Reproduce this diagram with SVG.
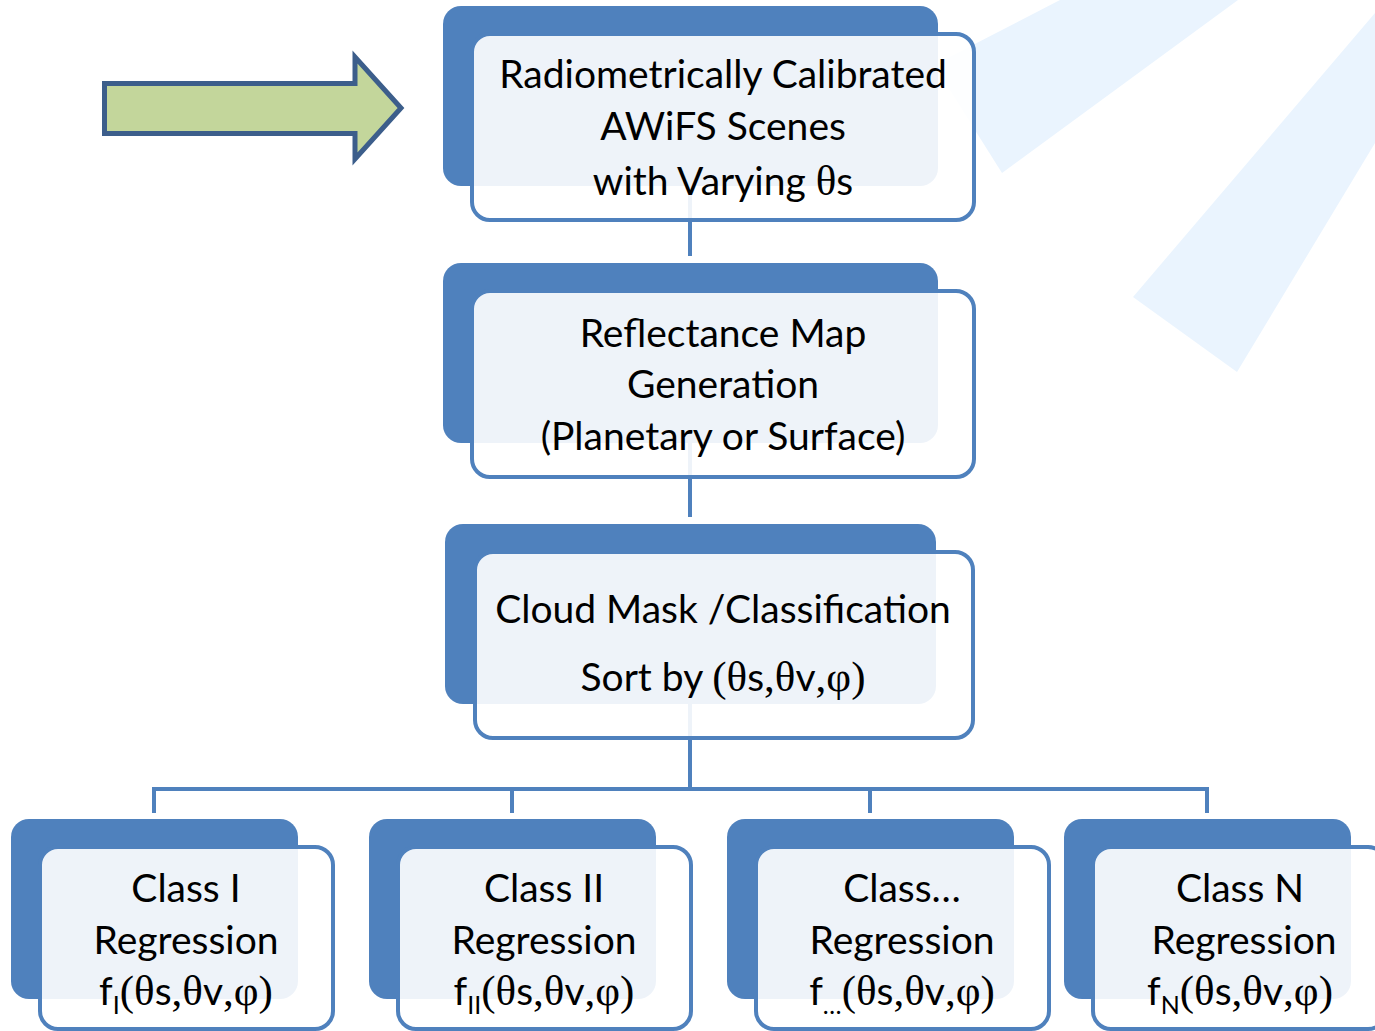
<svg xmlns="http://www.w3.org/2000/svg" width="1375" height="1031" viewBox="0 0 1375 1031">
<style>
.bg{fill:#EAF4FE;stroke:none}
.back{fill:#4F81BD;stroke:none}
.front{fill:#FFFFFF;fill-opacity:0.9;stroke:#4F81BD;stroke-width:4}
.conn{stroke:#4F81BD;stroke-width:4;fill:none}
.t{font-family:Lato,"Open Sans","Liberation Sans",sans-serif;font-size:39px;fill:#000000;text-anchor:middle}
.g{font-family:"Liberation Serif","DejaVu Serif",serif;font-size:43px}
.sub{font-size:25px}
</style>
<rect x="0" y="0" width="1375" height="1031" fill="#FFFFFF"/>
<g id="background">
<polygon class="bg" points="934,65 1060,0 1238,0 1002,173"/>
<polygon class="bg" points="1133,297 1375,13 1375,143 1237,372"/>
</g>
<g id="input-arrow">
<polygon points="104.5,83.5 355,83.5 355,57 401,108 355,159 355,133.5 104.5,133.5" fill="#C3D69B" stroke="#3C5E8B" stroke-width="5" stroke-linejoin="miter"/>
</g>
<g id="connectors">
<line class="conn" x1="690" y1="110" x2="690" y2="256"/>
<line class="conn" x1="690" y1="370" x2="690" y2="517"/>
<line class="conn" x1="690" y1="630" x2="690" y2="789"/>
<line class="conn" x1="153" y1="789" x2="1208" y2="789"/>
<line class="conn" x1="154" y1="787" x2="154" y2="813"/>
<line class="conn" x1="512" y1="787" x2="512" y2="813"/>
<line class="conn" x1="870" y1="787" x2="870" y2="813"/>
<line class="conn" x1="1207" y1="787" x2="1207" y2="813"/>
</g>
<g id="node-calibrated">
<rect class="back" x="443" y="6" width="495" height="180" rx="18"/>
<rect class="front" x="472" y="34" width="502" height="186" rx="18"/>
<text class="t" x="723" y="88">Radiometrically Calibrated</text>
<text class="t" x="723" y="140">AWiFS Scenes</text>
<text class="t" x="723" y="195">with Varying <tspan class="g">θ</tspan>s</text>
</g>
<g id="node-reflectance">
<rect class="back" x="443" y="263" width="495" height="180" rx="18"/>
<rect class="front" x="472" y="291" width="502" height="186" rx="18"/>
<text class="t" x="723" y="347">Reflectance Map</text>
<text class="t" x="723" y="398">Generation</text>
<text class="t" x="723" y="450">(Planetary or Surface)</text>
</g>
<g id="node-cloudmask">
<rect class="back" x="445" y="524" width="491" height="180" rx="18"/>
<rect class="front" x="475" y="552" width="498" height="186" rx="18"/>
<text class="t" x="723" y="623">Cloud Mask /Classification</text>
<text class="t" x="723" y="691">Sort by <tspan class="g">(θ</tspan>s<tspan class="g">,θ</tspan>v<tspan class="g">,φ)</tspan></text>
</g>
<g id="node-class1">
<rect class="back" x="11" y="819" width="287" height="180" rx="18"/>
<rect class="front" x="40" y="847" width="293" height="182" rx="18"/>
<text class="t" x="186" y="902">Class I</text>
<text class="t" x="186" y="954">Regression</text>
<text class="t" x="186" y="1005">f<tspan class="sub" dy="9">I</tspan><tspan class="g" dy="-9">(θ</tspan>s<tspan class="g">,θ</tspan>v<tspan class="g">,φ)</tspan></text>
</g>
<g id="node-class2">
<rect class="back" x="369" y="819" width="287" height="180" rx="18"/>
<rect class="front" x="398" y="847" width="293" height="182" rx="18"/>
<text class="t" x="544" y="902">Class II</text>
<text class="t" x="544" y="954">Regression</text>
<text class="t" x="544" y="1005">f<tspan class="sub" dy="9">II</tspan><tspan class="g" dy="-9">(θ</tspan>s<tspan class="g">,θ</tspan>v<tspan class="g">,φ)</tspan></text>
</g>
<g id="node-class-etc">
<rect class="back" x="727" y="819" width="287" height="180" rx="18"/>
<rect class="front" x="756" y="847" width="293" height="182" rx="18"/>
<text class="t" x="902" y="902">Class…</text>
<text class="t" x="902" y="954">Regression</text>
<text class="t" x="902" y="1005">f<tspan class="sub" dy="9">…</tspan><tspan class="g" dy="-9">(θ</tspan>s<tspan class="g">,θ</tspan>v<tspan class="g">,φ)</tspan></text>
</g>
<g id="node-classN">
<rect class="back" x="1064" y="819" width="287" height="180" rx="18"/>
<rect class="front" x="1093" y="847" width="293" height="182" rx="18"/>
<text class="t" x="1240" y="902">Class N</text>
<text class="t" x="1244" y="954">Regression</text>
<text class="t" x="1240" y="1005">f<tspan class="sub" dy="9">N</tspan><tspan class="g" dy="-9">(θ</tspan>s<tspan class="g">,θ</tspan>v<tspan class="g">,φ)</tspan></text>
</g>
</svg>
